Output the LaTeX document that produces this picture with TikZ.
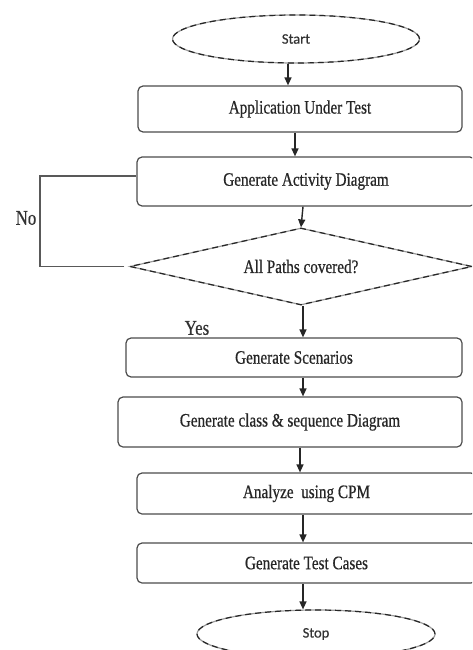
\documentclass[tikz,border=0pt]{standalone}
\usepackage{fontspec}
\setmainfont{Liberation Serif}
\newfontfamily\boxfont[FakeStretch=0.8,FakeBold=0.6]{Liberation Serif}
\newfontfamily\termfont[FakeBold=0.5]{Carlito}
\usetikzlibrary{shapes.geometric,arrows.meta}

\begin{document}
\begin{tikzpicture}[x=1pt,y=-1pt,
  stepbox/.style={draw=black!70, line width=1.2pt, rounded corners=5pt,
    font=\boxfont\fontsize{19}{21}\selectfont, text=black!85, inner sep=0pt},
  sketchy/.style={draw=black!40, line width=1.2pt,
    postaction={draw=black!85, line width=1.2pt, dash pattern=on 6pt off 4pt}},
  terminal/.style={ellipse, sketchy, inner sep=0pt,
    font=\termfont\fontsize{14.5}{16}\selectfont, text=black!80},
  decision/.style={diamond, aspect=4.4, sketchy, inner sep=0pt,
    font=\boxfont\fontsize{19}{21}\selectfont, text=black!85},
  lbl/.style={font=\boxfont\fontsize{21}{23}\selectfont, text=black!80, inner sep=0pt},
  flow/.style={draw=black!85, line width=1.4pt, -{Triangle[width=7pt,length=8pt]}},
  backline/.style={draw=black!65, line width=1.5pt}]

\useasboundingbox (0,0) rectangle (472,650);
\clip (0,0) rectangle (472,650);

% column positions of the connectors
\coordinate (c288) at (288,0);
\coordinate (c295) at (295,0);
\coordinate (c300) at (300,0);
\coordinate (c303) at (303,0);
\coordinate (lp) at (40,176);

% flow steps
\node[terminal, minimum width=247pt, minimum height=48pt] (start) at (296,39) {Start};
\node[stepbox, minimum width=324pt, minimum height=46pt] (app) at (300,109) {Application Under Test};
\node[stepbox, minimum width=338pt, minimum height=49pt] (act) at (306,181.5) {Generate Activity Diagram};
\node[decision, minimum width=342pt, minimum height=77pt] (dec) at (301,266.5) {All Paths covered?};
\node[stepbox, minimum width=336pt, minimum height=39pt] (scen) at (294,357.5) {Generate Scenarios};
\node[stepbox, minimum width=344pt, minimum height=50pt] (cls) at (290,422) {Generate class \& sequence Diagram};
\node[stepbox, minimum width=339pt, minimum height=41pt] (ana) at (306.5,493.5) {Analyze~~using CPM};
\node[stepbox, minimum width=339pt, minimum height=40pt] (tc) at (306.5,563) {Generate Test Cases};
\node[terminal, minimum width=238pt, minimum height=48pt] (stop) at (316,634) {Stop};

% branch labels
\node[lbl] (no) at (26,218) {No};
\node[lbl] (yes) at (197,328) {Yes};

% connectors
\draw[flow] (start.south -| c288) -- (app.north -| c288);
\draw[flow] (app.south -| c295) -- (act.north -| c295);
\draw[flow] (act.south -| c303) -- (dec.north);
\draw[flow] (dec.south -| c303) -- (scen.north -| c303);
\draw[flow] (scen.south -| c303) -- (cls.north -| c303);
\draw[flow] (cls.south -| c300) -- (ana.north -| c300);
\draw[flow] (ana.south -| c303) -- (tc.north -| c303);
\draw[flow] (tc.south -| c303) -- (stop.north -| c303);

% "No" branch back to the activity diagram step
\draw[backline] ([xshift=-5pt]dec.west) -| (lp) -- (lp -| act.west);

\end{tikzpicture}
\end{document}
